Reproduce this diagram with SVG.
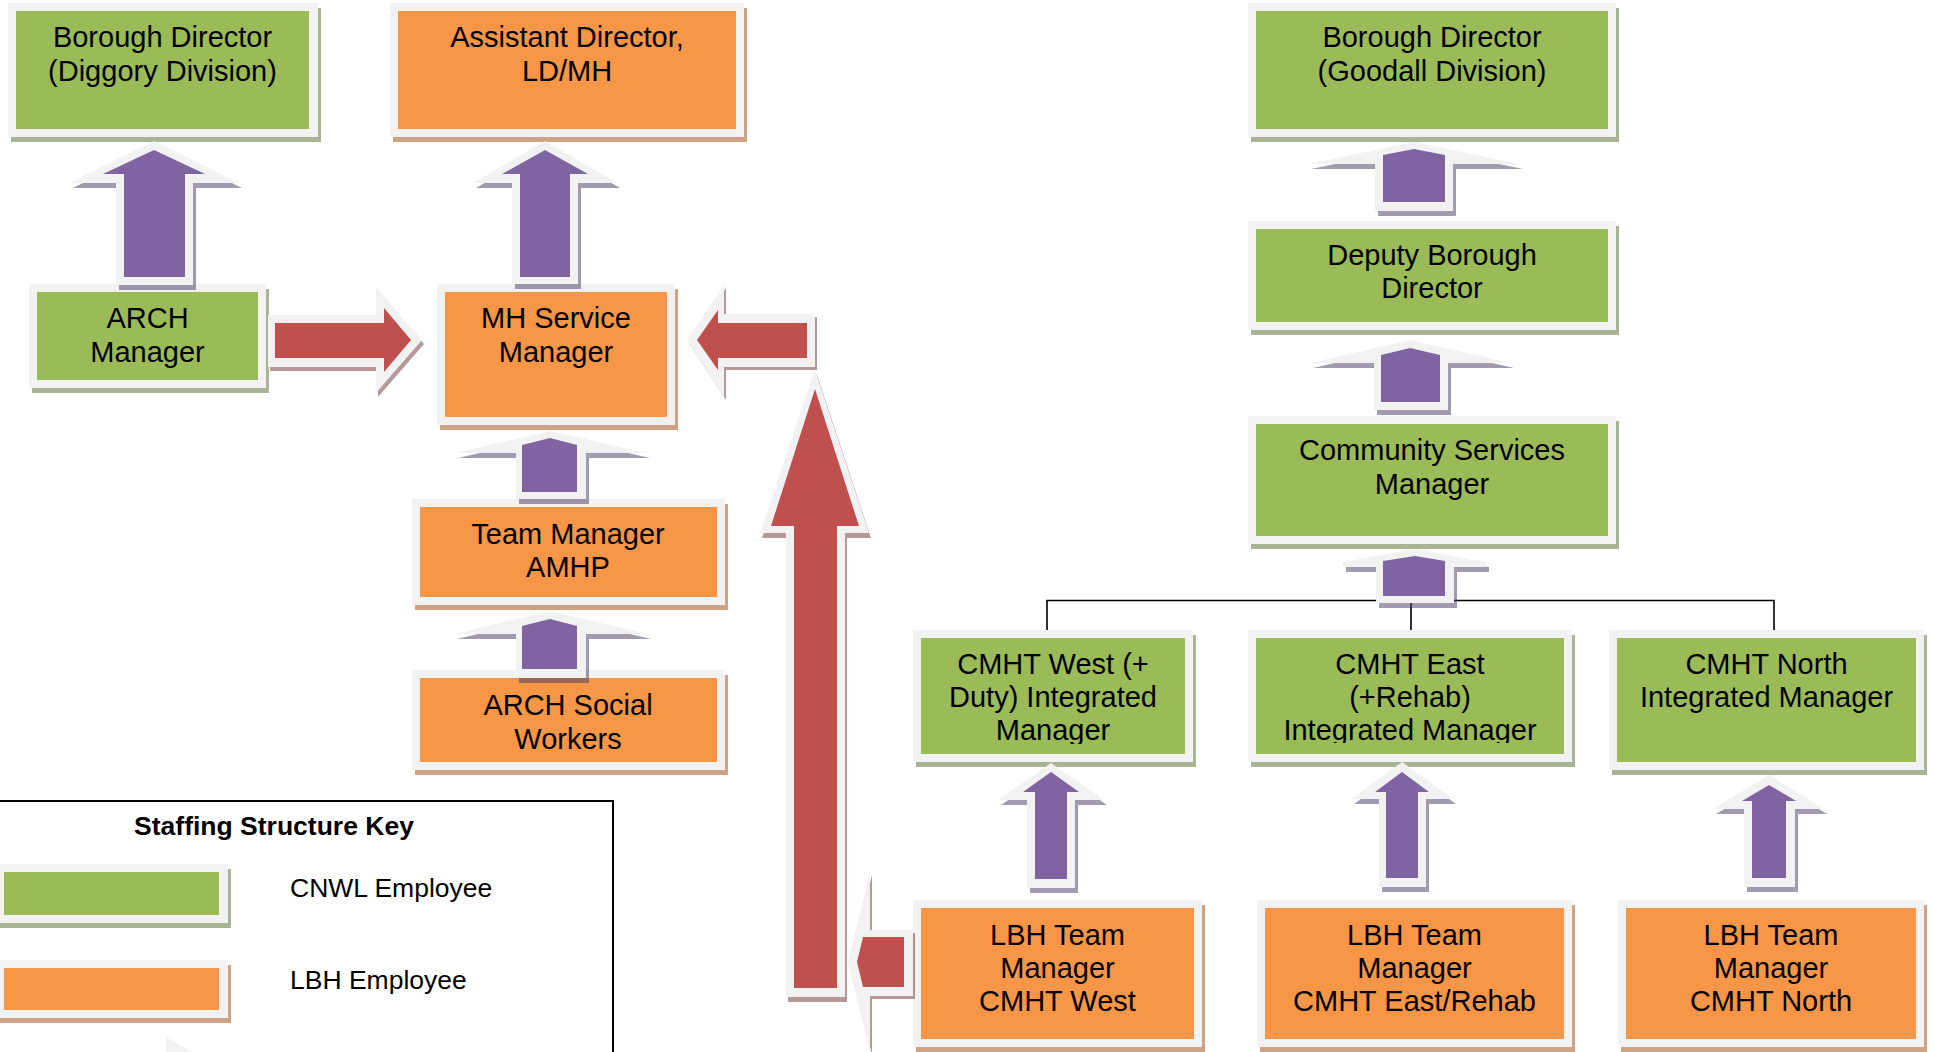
<svg xmlns="http://www.w3.org/2000/svg" width="1933" height="1052" viewBox="0 0 1933 1052">
<style>
.o{fill:#f2f2f2}
.g{fill:#9bbb59}
.r{fill:#f79646}
.sg{fill:#a8b494}
.so{fill:#cfa283}
.t{font-family:"Liberation Sans",Arial,sans-serif;font-size:29px;text-anchor:middle;fill:#000}
.k{font-family:"Liberation Sans",Arial,sans-serif;font-size:26.5px;fill:#000}
.ap{fill:#8064a2}
.ar{fill:#c0504d}
.aw{fill:#f2f2f2}
.sp{fill:#46375f;fill-opacity:0.5}
.sr{fill:#6e3234;fill-opacity:0.5}
.ln{stroke:#000;stroke-width:1.6;fill:none}
</style>
<defs>
<clipPath id="cw"><rect x="900" y="630" width="300" height="114"/></clipPath>
<clipPath id="ce"><rect x="1240" y="630" width="340" height="113"/></clipPath>
</defs>
<rect width="1933" height="1052" fill="#fff"/>

<g id="nodes">
<g id="n-diggory"><rect class="sg" x="11" y="8" width="310" height="134"/><rect class="o" x="8" y="3" width="310" height="134"/><rect class="g" x="16" y="11" width="293" height="118"/>
<text class="t" x="162.5" y="46.5">Borough Director</text><text class="t" x="162.5" y="80.5">(Diggory Division)</text></g>

<g id="n-assistant"><rect class="so" x="393" y="8" width="354" height="134"/><rect class="o" x="390" y="3" width="354" height="134"/><rect class="r" x="398" y="11" width="338" height="118"/>
<text class="t" x="567" y="46.5">Assistant Director,</text><text class="t" x="567" y="80.5">LD/MH</text></g>

<g id="n-arch-manager"><rect class="sg" x="32" y="289" width="237" height="104"/><rect class="o" x="29" y="284" width="237" height="104"/><rect class="g" x="37" y="292" width="221" height="88"/>
<text class="t" x="147.5" y="327.5">ARCH</text><text class="t" x="147.5" y="361.5">Manager</text></g>

<g id="n-mh"><rect class="so" x="440" y="289" width="238" height="141"/><rect class="o" x="437" y="284" width="238" height="141"/><rect class="r" x="445" y="292" width="222" height="125"/>
<text class="t" x="556" y="327.5">MH Service</text><text class="t" x="556" y="361.5">Manager</text></g>

<g id="n-team-amhp"><rect class="so" x="415" y="504" width="313" height="106"/><rect class="o" x="412" y="499" width="313" height="106"/><rect class="r" x="420" y="507" width="297" height="90"/>
<text class="t" x="568" y="543.5">Team Manager</text><text class="t" x="568" y="577">AMHP</text></g>

<g id="n-arch-sw"><rect class="so" x="415" y="675" width="313" height="100"/><rect class="o" x="412" y="670" width="313" height="100"/><rect class="r" x="420" y="678" width="297" height="84"/>
<text class="t" x="568" y="714.5">ARCH Social</text><text class="t" x="568" y="748.5">Workers</text></g>

<g id="n-goodall"><rect class="sg" x="1251" y="8" width="368" height="134"/><rect class="o" x="1248" y="3" width="368" height="134"/><rect class="g" x="1256" y="11" width="352" height="118"/>
<text class="t" x="1432" y="46.5">Borough Director</text><text class="t" x="1432" y="80.5">(Goodall Division)</text></g>

<g id="n-deputy"><rect class="sg" x="1251" y="226" width="368" height="109"/><rect class="o" x="1248" y="221" width="368" height="109"/><rect class="g" x="1256" y="229" width="352" height="93"/>
<text class="t" x="1432" y="264.5">Deputy Borough</text><text class="t" x="1432" y="297.5">Director</text></g>

<g id="n-community"><rect class="sg" x="1251" y="421" width="368" height="128"/><rect class="o" x="1248" y="416" width="368" height="128"/><rect class="g" x="1256" y="424" width="352" height="112"/>
<text class="t" x="1432" y="459.5">Community Services</text><text class="t" x="1432" y="493.5">Manager</text></g>

<g id="n-cmht-west"><rect class="sg" x="916" y="635" width="280" height="132"/><rect class="o" x="913" y="630" width="280" height="132"/><rect class="g" x="921" y="638" width="264" height="116"/>
<g clip-path="url(#cw)"><text class="t" x="1053" y="673.5">CMHT West (+</text><text class="t" x="1053" y="706.5">Duty) Integrated</text><text class="t" x="1053" y="739.5">Manager</text></g></g>

<g id="n-cmht-east"><rect class="sg" x="1251" y="635" width="324" height="132"/><rect class="o" x="1248" y="630" width="324" height="132"/><rect class="g" x="1256" y="638" width="308" height="116"/>
<g clip-path="url(#ce)"><text class="t" x="1410" y="673.5">CMHT East</text><text class="t" x="1410" y="706.5">(+Rehab)</text><text class="t" x="1410" y="739.5">Integrated Manager</text></g></g>

<g id="n-cmht-north"><rect class="sg" x="1612" y="635" width="315" height="140"/><rect class="o" x="1609" y="630" width="315" height="140"/><rect class="g" x="1617" y="638" width="299" height="124"/>
<text class="t" x="1766.5" y="673.5">CMHT North</text><text class="t" x="1766.5" y="706.5">Integrated Manager</text></g>

<g id="n-lbh-west"><rect class="so" x="916" y="905" width="289" height="147"/><rect class="o" x="913" y="900" width="289" height="147"/><rect class="r" x="921" y="908" width="273" height="131"/>
<text class="t" x="1057.5" y="944.5">LBH Team</text><text class="t" x="1057.5" y="977.5">Manager</text><text class="t" x="1057.5" y="1011">CMHT West</text></g>

<g id="n-lbh-east"><rect class="so" x="1260" y="905" width="315" height="147"/><rect class="o" x="1257" y="900" width="315" height="147"/><rect class="r" x="1265" y="908" width="299" height="131"/>
<text class="t" x="1414.5" y="944.5">LBH Team</text><text class="t" x="1414.5" y="977.5">Manager</text><text class="t" x="1414.5" y="1011">CMHT East/Rehab</text></g>

<g id="n-lbh-north"><rect class="so" x="1621" y="905" width="306" height="147"/><rect class="o" x="1618" y="900" width="306" height="147"/><rect class="r" x="1626" y="908" width="290" height="131"/>
<text class="t" x="1771" y="944.5">LBH Team</text><text class="t" x="1771" y="977.5">Manager</text><text class="t" x="1771" y="1011">CMHT North</text></g>
</g>

<g id="connectors">
<polyline class="ln" points="1047,630 1047,600.5 1774,600.5 1774,630"/>
<line class="ln" x1="1411" y1="600.5" x2="1411" y2="630"/>

<g id="a-arch-diggory"><polygon class="sp" transform="translate(3,5)" points="154,141 239,183 193,183 193,285 116,285 116,183 70,183"/><polygon class="aw" points="154,141 239,183 193,183 193,285 116,285 116,183 70,183"/><polygon class="ap" points="154,150 205,174 185,174 185,277 124,277 124,174 103,174"/></g>
<g id="a-mh-assistant"><polygon class="sp" transform="translate(3,5)" points="545,141 617,183 578,183 578,284 512,284 512,183 473,183"/><polygon class="aw" points="545,141 617,183 578,183 578,284 512,284 512,183 473,183"/><polygon class="ap" points="545,150 588,174 570,174 570,277 520,277 520,174 502,174"/></g>
<g id="a-team-mh"><polygon class="sp" transform="translate(3,5)" points="550,431 647,453 586,453 586,499 516,499 516,453 455,453"/><polygon class="aw" points="550,431 647,453 586,453 586,499 516,499 516,453 455,453"/><polygon class="ap" points="550,438 577,445 577,492 522,492 522,445"/></g>
<g id="a-sw-team"><polygon class="sp" transform="translate(3,5)" points="550,611 648,634 586,634 586,678 516,678 516,634 454,634"/><polygon class="aw" points="550,611 648,634 586,634 586,678 516,678 516,634 454,634"/><polygon class="ap" points="550,619 577,626 577,669 522,669 522,626"/></g>
<g id="a-deputy-goodall"><polygon class="sp" transform="translate(3,5)" points="1414,142 1520,164 1453,164 1453,211 1375,211 1375,164 1308,164"/><polygon class="aw" points="1414,142 1520,164 1453,164 1453,211 1375,211 1375,164 1308,164"/><polygon class="ap" points="1414,149 1445,155 1445,202 1383,202 1383,155"/></g>
<g id="a-community-deputy"><polygon class="sp" transform="translate(3,5)" points="1410,340 1511,363 1448,363 1448,410 1374,410 1374,363 1310,363"/><polygon class="aw" points="1410,340 1511,363 1448,363 1448,410 1374,410 1374,363 1310,363"/><polygon class="ap" points="1410,348 1440,355 1440,402 1381,402 1381,355"/></g>
<g id="a-cmht-community"><polygon class="sp" transform="translate(3,5)" points="1415,549 1486,562 1486,567 1454,567 1454,603 1376,603 1376,567 1343,567 1343,562"/><polygon class="aw" points="1415,549 1486,562 1486,567 1454,567 1454,603 1376,603 1376,567 1343,567 1343,562"/><polygon class="ap" points="1415,556 1445,561 1445,596 1383,596 1383,561"/></g>
<g id="a-lbhw-cmhtw"><polygon class="sp" transform="translate(3,5)" points="1051,763 1104,800 1075,800 1075,888 1027,888 1027,800 998,800"/><polygon class="aw" points="1051,763 1104,800 1075,800 1075,888 1027,888 1027,800 998,800"/><polygon class="ap" points="1051,772 1079,792 1067,792 1067,879 1035,879 1035,792 1023,792"/></g>
<g id="a-lbhe-cmhte"><polygon class="sp" transform="translate(3,5)" points="1402,762 1453,799 1426,799 1426,887 1379,887 1379,799 1351,799"/><polygon class="aw" points="1402,762 1453,799 1426,799 1426,887 1379,887 1379,799 1351,799"/><polygon class="ap" points="1402,772 1429,792 1418,792 1418,878 1386,878 1386,792 1375,792"/></g>
<g id="a-lbhn-cmhtn"><polygon class="sp" transform="translate(3,5)" points="1769,775 1824,809 1795,809 1795,887 1744,887 1744,809 1713,809"/><polygon class="aw" points="1769,775 1824,809 1795,809 1795,887 1744,887 1744,809 1713,809"/><polygon class="ap" points="1769,785 1796,801 1786,801 1786,878 1752,878 1752,801 1742,801"/></g>

<g id="a-arch-mh"><polygon class="sr" transform="translate(2,4)" points="268,315 376,315 376,287 422,340 376,393 376,367 268,367"/><polygon class="aw" points="268,315 376,315 376,287 422,340 376,393 376,367 268,367"/><polygon class="ar" points="275,323 384,323 384,308 411,340 384,372 384,358 275,358"/></g>
<g id="a-right-mh"><polygon class="sr" transform="translate(2,3)" points="687,340 724,285 724,314 815,314 815,367 724,367 724,397"/><polygon class="aw" points="687,340 724,285 724,314 815,314 815,367 724,367 724,397"/><polygon class="ar" points="697,340 718,310 718,323 807,323 807,358 718,358 718,370"/></g>
<g id="a-big-up"><polygon class="sr" transform="translate(2,5)" points="815,370 869,533 845,533 845,997 786,997 786,533 760,533"/><polygon class="aw" points="815,370 869,533 845,533 845,997 786,997 786,533 760,533"/><polygon class="ar" points="815,389 859,526 837,526 837,988 794,988 794,526 771,526"/></g>
<g id="a-lbhw-left"><polygon class="sr" transform="translate(2,3)" points="848,962 870,872 870,930 913,930 913,996 870,996 870,1052"/><polygon class="aw" points="848,962 870,872 870,930 913,930 913,996 870,996 870,1052"/><polygon class="ar" points="857,962 863,937 904,937 904,987 863,987"/></g>
</g>

<g id="legend">
<rect x="-2" y="801" width="615" height="270" fill="none" stroke="#000" stroke-width="2"/>
<text class="k" x="274" y="835" text-anchor="middle" font-weight="bold">Staffing Structure Key</text>
<rect class="sg" x="-1" y="869" width="232" height="59"/><rect class="o" x="-4" y="864" width="232" height="59"/><rect class="g" x="4" y="872" width="215" height="43"/>
<text class="k" x="290" y="896.5">CNWL Employee</text>
<rect class="so" x="-1" y="965" width="232" height="58"/><rect class="o" x="-4" y="960" width="232" height="58"/><rect class="r" x="4" y="968" width="215" height="42"/>
<text class="k" x="290" y="988.5">LBH Employee</text>
<polygon points="166,1037 192,1052 166,1052" fill="#f2f2f2"/>
</g>
</svg>
